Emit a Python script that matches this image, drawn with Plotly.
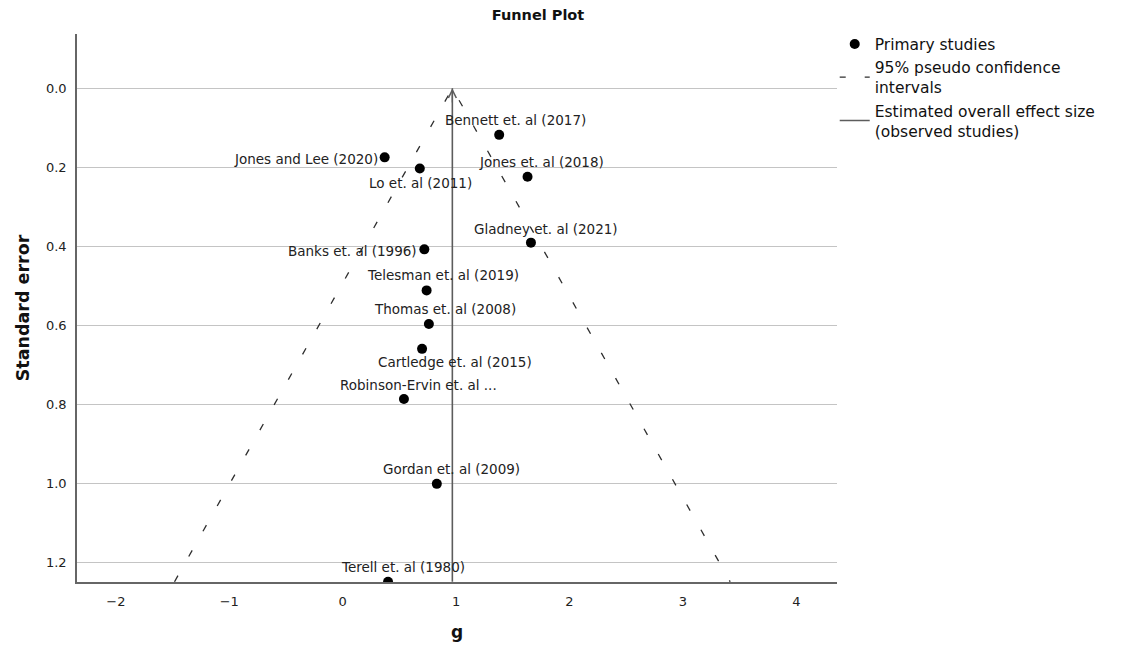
import plotly.graph_objects as go

# Study-level effect sizes (Hedges' g) and their standard errors
studies = [
    "Bennett et. al (2017)",
    "Jones and Lee (2020)",
    "Lo et. al (2011)",
    "Jones et. al (2018)",
    "Gladney et. al (2021)",
    "Banks et. al (1996)",
    "Telesman et. al (2019)",
    "Thomas et. al (2008)",
    "Cartledge et. al (2015)",
    "Robinson-Ervin et. al ...",
    "Gordan et. al (2009)",
    "Terell et. al (1980)",
]
g_values = [1.38, 0.37, 0.68, 1.63, 1.66, 0.72, 0.74, 0.76, 0.70, 0.54, 0.83, 0.40]
std_errors = [0.118, 0.175, 0.203, 0.224, 0.391, 0.408, 0.512, 0.597, 0.660, 0.787, 1.002, 1.25]

# Overall (pooled) effect size and the standard-error span of the funnel
overall_effect = 0.967
se_span = [0.0, 1.25]
z_crit = 1.96

x_ticks = [-2, -1, 0, 1, 2, 3, 4]
y_ticks = [0.0, 0.2, 0.4, 0.6, 0.8, 1.0, 1.2]

# label placement per study: (x shift px, y shift px, horizontal anchor)
label_place = [
    (16, 15, "center"),
    (-5, -2, "right"),
    (1, -15, "center"),
    (14, 15, "center"),
    (15, 14, "center"),
    (-5, -2, "right"),
    (16, 15, "center"),
    (16, 15, "center"),
    (33, -13, "center"),
    (15, 14, "center"),
    (15, 15, "center"),
    (15, 15, "center"),
]

FONT = "DejaVu Sans"
DASH_COLOR = "#2e2e2e"

fig = go.Figure()

fig.add_trace(go.Scatter(
    x=g_values, y=std_errors, mode="markers",
    marker=dict(color="black", size=10),
    name="Primary studies",
))

# Pseudo 95% confidence limits: effect ± 1.96·SE
left_x = [overall_effect - z_crit * s for s in se_span]
right_x = [overall_effect + z_crit * s for s in se_span]
fig.add_trace(go.Scatter(
    x=left_x[::-1] + right_x, y=se_span[::-1] + se_span,
    mode="lines", line=dict(color=DASH_COLOR, width=1.3, dash="7px,22px"),
    showlegend=False, name="95% pseudo confidence intervals",
))
# legend key for the confidence limits (shorter dash period)
fig.add_trace(go.Scatter(
    x=[None], y=[None], mode="lines",
    line=dict(color=DASH_COLOR, width=1.3, dash="6px,19px"),
    name="95% pseudo confidence<br>intervals",
))

fig.add_trace(go.Scatter(
    x=[overall_effect, overall_effect], y=se_span,
    mode="lines", line=dict(color="#5c5c5c", width=1.6),
    name="Estimated overall effect size<br>(observed studies)",
))

# arrow head at the top of the overall-effect line
fig.add_annotation(
    x=overall_effect, y=se_span[0], ax=overall_effect, ay=se_span[0] + 0.04,
    xref="x", yref="y", axref="x", ayref="y",
    showarrow=True, arrowhead=5, arrowsize=1.2, arrowwidth=1.3,
    arrowcolor="#5c5c5c", text="",
)

for name, gx, se, (dx, dy, anchor) in zip(studies, g_values, std_errors, label_place):
    fig.add_annotation(
        x=gx, y=se, text=name, showarrow=False,
        xshift=dx, yshift=dy, xanchor=anchor, yanchor="middle",
        font=dict(family=FONT, size=13.5, color="#222222"),
    )

fig.update_layout(
    width=1121, height=659,
    margin=dict(l=77, r=284, t=34, b=77),
    paper_bgcolor="white", plot_bgcolor="white",
    font=dict(family=FONT, color="#222222"),
    title=dict(
        text="<b>Funnel Plot</b>", x=538 / 1121, xanchor="center",
        y=1 - 15 / 659, yanchor="middle",
        font=dict(family=FONT, size=14.5, color="#111111"),
    ),
    legend=dict(
        x=0.997, xanchor="left", y=1.012, yanchor="top",
        font=dict(family=FONT, size=15.5, color="#111111"),
        bgcolor="rgba(0,0,0,0)", tracegroupgap=0,
    ),
    showlegend=True,
)

fig.update_xaxes(
    range=[-2.343, 4.359], tickvals=x_ticks,
    showgrid=False, zeroline=False,
    showline=True, linecolor="#666666", linewidth=1.5,
    ticks="", ticklabelstandoff=7,
    tickfont=dict(family=FONT, size=13, color="#222222"),
    title=dict(text="<b>g</b>", font=dict(family=FONT, size=17, color="#111111"), standoff=18),
)
fig.update_yaxes(
    range=[1.2506, -0.1375], tickvals=y_ticks, tickformat=".1f",
    showgrid=True, gridcolor="#c4c4c4", gridwidth=1, zeroline=False,
    showline=True, linecolor="#666666", linewidth=1.5,
    ticks="", ticklabelstandoff=6,
    tickfont=dict(family=FONT, size=13, color="#222222"),
    title=dict(text="<b>Standard error</b>", font=dict(family=FONT, size=17.5, color="#111111"), standoff=12),
)

fig.write_html("out.html")
